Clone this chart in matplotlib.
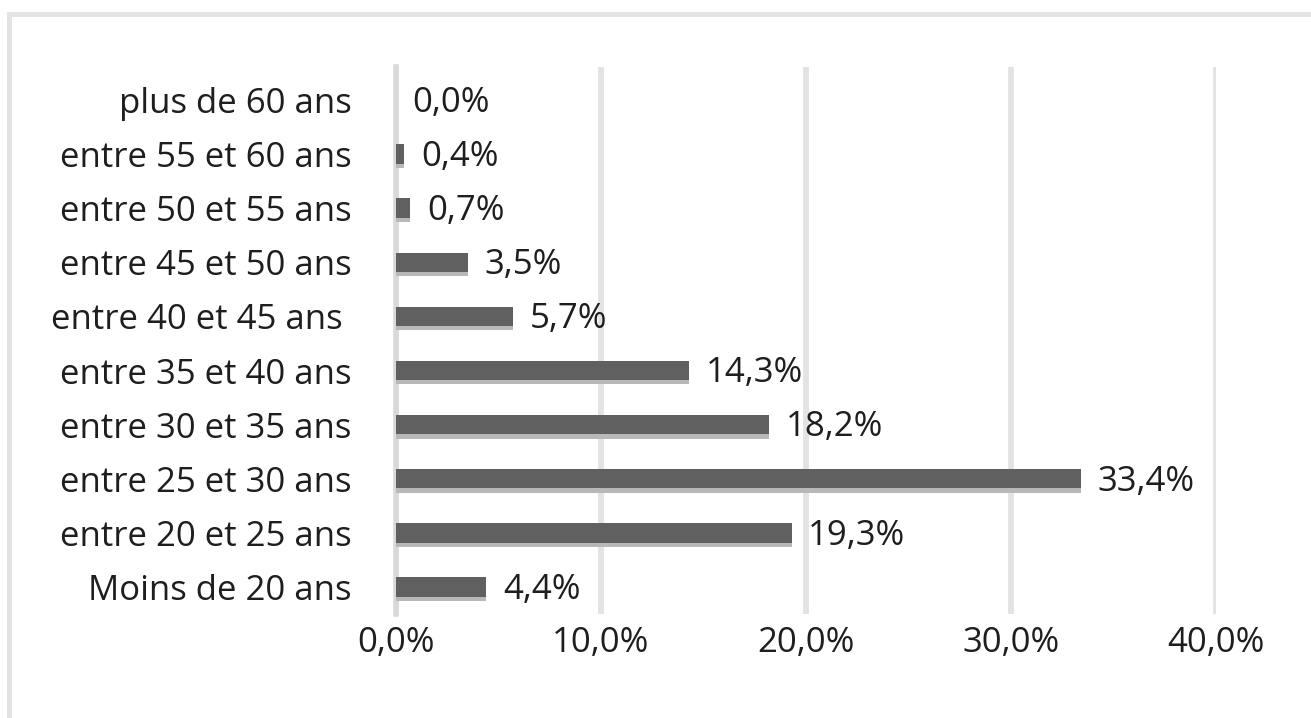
import matplotlib.pyplot as plt
import matplotlib.patheffects as pe
from matplotlib.patches import Rectangle

# data (bottom to top)
categories = ['Moins de 20 ans', 'entre 20 et 25 ans', 'entre 25 et 30 ans',
              'entre 30 et 35 ans', 'entre 35 et 40 ans', 'entre 40 et 45 ans ',
              'entre 45 et 50 ans', 'entre 50 et 55 ans', 'entre 55 et 60 ans',
              'plus de 60 ans']
values = [4.4, 19.3, 33.4, 18.2, 14.3, 5.7, 3.5, 0.7, 0.4, 0.0]
xticks = [0, 10, 20, 30, 40]

plt.rcParams['font.family'] = ['Open Sans', 'DejaVu Sans']

fig = plt.figure(figsize=(13.11, 7.18), dpi=100, facecolor='white')
ax = fig.add_axes([396/1311, 1 - 614/718, (1216-396)/1311, (614-67)/718])

# outer chart border (only top/left visible in the crop)
fig.patches.append(Rectangle((9/1311, -0.1), 1.2, 1 - 14/718 + 0.1, transform=fig.transFigure,
                             fill=False, edgecolor='#e3e3e3', linewidth=3.5, zorder=0))

ypos = list(range(len(categories)))
bars = ax.barh(ypos, values, height=0.36, color='#606060', zorder=3)
for b in bars:
    b.set_path_effects([pe.SimplePatchShadow(offset=(0, -3), shadow_rgbFace='#b8b8b8', alpha=1.0),
                        pe.Normal()])

for y, v in zip(ypos, values):
    ax.annotate(f"{v:.1f}%".replace('.', ','), (v, y), xytext=(12, -2),
                textcoords='offset points', va='center', ha='left',
                fontsize=25, color='#1e1e1e')

ax.set_xlim(0, 40)
ax.set_ylim(-0.5, 9.61)
ax.set_xticks(xticks)
ax.set_xticklabels([f"{t:.1f}%".replace('.', ',') for t in xticks], fontsize=25, color='#1e1e1e')
ax.set_yticks(ypos)
ax.set_yticklabels(categories, fontsize=25, color='#1e1e1e')
ax.tick_params(length=0)
ax.tick_params(axis='x', pad=9)
ax.tick_params(axis='y', pad=32)

ax.grid(axis='x', color='#e3e3e3', linewidth=4.2, zorder=0)
ax.set_axisbelow(True)
for s in ['top', 'right', 'bottom']:
    ax.spines[s].set_visible(False)
ax.spines['left'].set_color('#d9d9d9')
ax.spines['left'].set_linewidth(4)

fig.savefig('out.png', dpi=100, facecolor='white')
